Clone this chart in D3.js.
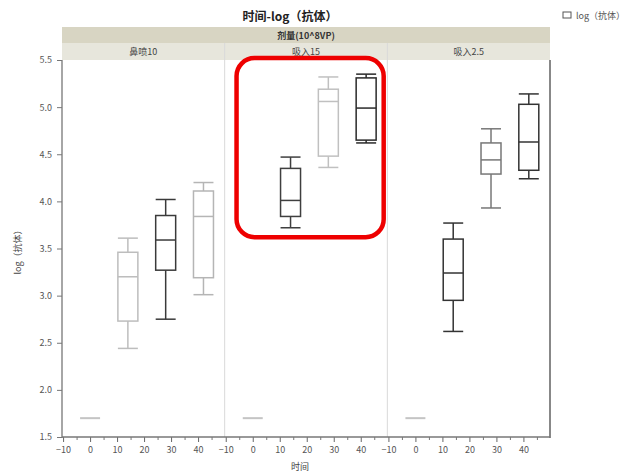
<!DOCTYPE html>
<html>
<head>
<meta charset="utf-8">
<script src="https://cdn.jsdelivr.net/npm/d3@7"></script>
<style>
  html, body { margin: 0; padding: 0; background: #fff; }
  text { font-family: "Noto Sans CJK SC", "DejaVu Sans", sans-serif; }
</style>
</head>
<body>
<svg id="chart" width="642" height="475"></svg>
<script>
// Groups (dose / route) shown as side-by-side panels
const panels = ["鼻喷10", "吸入15", "吸入2.5"];
// Sampling days for the post-dose boxes
const days = [14, 28, 42];
// Box statistics per group: [min, q1, median, q3, max] for each sampling day
const nasal10 = [[2.44, 2.73, 3.20, 3.46, 3.61], [2.75, 3.27, 3.59, 3.85, 4.02], [3.01, 3.19, 3.84, 4.11, 4.20]];
const inhaled15 = [[3.72, 3.84, 4.01, 4.35, 4.47], [4.36, 4.48, 5.06, 5.19, 5.32], [4.62, 4.65, 4.99, 5.31, 5.35]];
const inhaled25 = [[2.62, 2.95, 3.24, 3.60, 3.77], [3.93, 4.29, 4.44, 4.62, 4.77], [4.24, 4.33, 4.63, 5.03, 5.14]];
const groupStats = [nasal10, inhaled15, inhaled25];
// Day-0 baseline (all subjects at the same value)
const baselineDay = 0;
const baselineValue = 1.7;
// Tick labels
const yTicks = [1.5, 2.0, 2.5, 3.0, 3.5, 4.0, 4.5, 5.0, 5.5];
const xTicks = [-10, 0, 10, 20, 30, 40];
const xMinorTicks = [-5, 5, 15, 25, 35, 45];

// Stroke shade of each box (light / dark), per group
const shades = [["#bdbdbd", "#3a3a3a", "#b5b5b5"], ["#3f3f3f", "#c0c0c0", "#2a2a2a"], ["#333", "#777", "#333"]];

const svg = d3.select("#chart");
const plotLeft = 62, plotRight = 550, plotTop = 60, plotBottom = 437;
const panelW = (plotRight - plotLeft) / panels.length;

const y = d3.scaleLinear().domain([1.5, 5.5]).range([plotBottom, plotTop]);
const xOf = i => d3.scaleLinear().domain([-10.4, 49.85]).range([plotLeft + i * panelW, plotLeft + (i + 1) * panelW]);
const halfBox = 3.7;

// Title and legend
svg.append("text").attr("x", 290).attr("y", 21).attr("text-anchor", "middle")
  .attr("font-size", 12).attr("font-weight", "bold").attr("fill", "#222").text("时间-log（抗体）");
svg.append("rect").attr("x", 563).attr("y", 12).attr("width", 8).attr("height", 6)
  .attr("fill", "#fff").attr("stroke", "#555").attr("stroke-width", 1);
svg.append("text").attr("x", 576).attr("y", 19).attr("font-size", 9).attr("fill", "#555").text("log（抗体）");

// Header strips
svg.append("rect").attr("x", plotLeft).attr("y", 27).attr("width", plotRight - plotLeft).attr("height", 16).attr("fill", "#d8d5c3");
svg.append("text").attr("x", (plotLeft + plotRight) / 2).attr("y", 39).attr("text-anchor", "middle")
  .attr("font-size", 9).attr("font-weight", "bold").attr("fill", "#333").text("剂量(10^8VP)");
svg.append("rect").attr("x", plotLeft).attr("y", 43).attr("width", plotRight - plotLeft).attr("height", 17).attr("fill", "#e7e6dc");

panels.forEach((name, i) => {
  const x = xOf(i);
  const x0 = plotLeft + i * panelW;
  svg.append("text").attr("x", x0 + panelW / 2).attr("y", 55).attr("text-anchor", "middle")
    .attr("font-size", 9).attr("fill", "#444").text(name);
  if (i > 0) {
    svg.append("line").attr("x1", x0).attr("x2", x0).attr("y1", 43).attr("y2", plotBottom)
      .attr("stroke", "#d9d9d9").attr("stroke-width", 1);
  }

  // Bottom axis for this panel
  const axis = d3.axisBottom(x).tickValues(xTicks).tickSize(5).tickFormat(d3.format("d"));
  const g = svg.append("g").attr("transform", `translate(0,${plotBottom})`).call(axis);
  g.select(".domain").remove();
  g.selectAll(".tick line").attr("stroke", "#666");
  g.selectAll(".tick text").attr("font-size", 9).attr("fill", "#555").attr("dy", "0.9em")
    .attr("font-family", "\"DejaVu Sans\", sans-serif");
  const gm = svg.append("g").attr("transform", `translate(0,${plotBottom})`)
    .call(d3.axisBottom(x).tickValues(xMinorTicks).tickSize(3).tickFormat(""));
  gm.select(".domain").remove();
  gm.selectAll(".tick line").attr("stroke", "#777");

  // Day-0 baseline
  svg.append("line").attr("x1", x(baselineDay - halfBox)).attr("x2", x(baselineDay + halfBox))
    .attr("y1", y(baselineValue)).attr("y2", y(baselineValue))
    .attr("stroke", "#c4c4c4").attr("stroke-width", 2);

  // Box plots
  const boxes = groupStats[i].map((s, j) => ({ day: days[j], s, c: shades[i][j] }));
  const bg = svg.append("g").selectAll("g").data(boxes).join("g");
  // whisker stems
  bg.append("line").attr("x1", d => x(d.day)).attr("x2", d => x(d.day))
    .attr("y1", d => y(d.s[3])).attr("y2", d => y(d.s[4])).attr("stroke", d => d.c).attr("stroke-width", 1.5);
  bg.append("line").attr("x1", d => x(d.day)).attr("x2", d => x(d.day))
    .attr("y1", d => y(d.s[0])).attr("y2", d => y(d.s[1])).attr("stroke", d => d.c).attr("stroke-width", 1.5);
  // whisker caps
  [0, 4].forEach(k => {
    bg.append("line").attr("x1", d => x(d.day - halfBox)).attr("x2", d => x(d.day + halfBox))
      .attr("y1", d => y(d.s[k])).attr("y2", d => y(d.s[k])).attr("stroke", d => d.c).attr("stroke-width", 1.5);
  });
  // box
  bg.append("rect").attr("x", d => x(d.day - halfBox)).attr("width", d => x(d.day + halfBox) - x(d.day - halfBox))
    .attr("y", d => y(d.s[3])).attr("height", d => y(d.s[1]) - y(d.s[3]))
    .attr("fill", "#fff").attr("stroke", d => d.c).attr("stroke-width", 1.5);
  // median
  bg.append("line").attr("x1", d => x(d.day - halfBox)).attr("x2", d => x(d.day + halfBox))
    .attr("y1", d => y(d.s[2])).attr("y2", d => y(d.s[2])).attr("stroke", d => d.c).attr("stroke-width", 1.5);
});

// Frame: left axis and right border
svg.append("line").attr("x1", plotLeft).attr("x2", plotLeft).attr("y1", plotTop).attr("y2", plotBottom + 1)
  .attr("stroke", "#888").attr("stroke-width", 1.5);
svg.append("line").attr("x1", plotRight).attr("x2", plotRight).attr("y1", plotTop).attr("y2", plotBottom + 1)
  .attr("stroke", "#888").attr("stroke-width", 2);
svg.append("line").attr("x1", plotLeft).attr("x2", plotRight).attr("y1", plotBottom).attr("y2", plotBottom)
  .attr("stroke", "#777").attr("stroke-width", 1.5);

// Left axis
const ya = svg.append("g").attr("transform", `translate(${plotLeft},0)`)
  .call(d3.axisLeft(y).tickValues(yTicks).tickSize(5).tickFormat(d3.format(".1f")));
ya.select(".domain").remove();
ya.selectAll(".tick line").attr("stroke", "#777");
ya.selectAll(".tick text").attr("font-size", 9).attr("fill", "#555").attr("x", -10)
  .attr("font-family", "\"DejaVu Sans\", sans-serif");

// Axis titles
svg.append("text").attr("transform", "translate(21,250) rotate(-90)").attr("text-anchor", "middle")
  .attr("font-size", 9).attr("fill", "#444").text("log（抗体）");
svg.append("text").attr("x", 300).attr("y", 470).attr("text-anchor", "middle")
  .attr("font-size", 9).attr("fill", "#444").text("时间");

// Highlight around the 吸入15 post-dose boxes
const xh = xOf(1);
svg.append("rect")
  .attr("x", xh(-6)).attr("y", y(5.52))
  .attr("width", xh(48.5) - xh(-6)).attr("height", y(3.62) - y(5.52))
  .attr("rx", 18).attr("fill", "none").attr("stroke", "#ee0000").attr("stroke-width", 4.5);
</script>
</body>
</html>
